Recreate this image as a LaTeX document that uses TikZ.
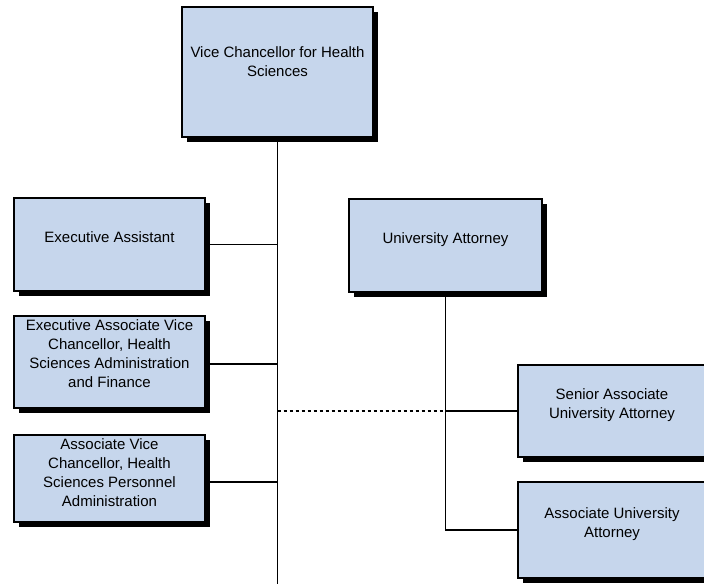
\documentclass[tikz,border=0pt]{standalone}
\usepackage{fontspec}
\setmainfont{Liberation Sans}
\usetikzlibrary{shadows}
\definecolor{boxblue}{RGB}{198,214,236}
\tikzset{
	orgbox/.style={draw=black, line width=1.6pt, fill=boxblue, align=center,
		inner sep=2pt, font=\fontsize{15}{19}\selectfont,
		drop shadow={shadow xshift=5pt, shadow yshift=-5pt, fill=black, opacity=1}},
	link/.style={line width=1.6pt}
}

\begin{document}
\begin{tikzpicture}[x=1pt, y=1pt]
	\useasboundingbox [fill=white] (0, 0) rectangle (704, 584);
	\begin{scope}
	\clip (0, 0) rectangle (704, 584);
	\node [orgbox, minimum width=191pt, minimum height=130pt] (VC) at (277.5, 512) {Vice Chancellor for Health\\Sciences\\[1pt]};
	\node [orgbox, minimum width=191pt, minimum height=93pt] (EA) at (109.5, 339.5) {Executive Assistant\\[-5pt]};
	\node [orgbox, minimum width=191pt, minimum height=92pt] (EAVC) at (109.5, 222) {Executive Associate Vice\\Chancellor, Health\\Sciences Administration\\and Finance\\[-3pt]};
	\node [orgbox, minimum width=191pt, minimum height=87pt] (AVC) at (109.5, 105.5) {Associate Vice\\Chancellor, Health\\Sciences Personnel\\Administration\\[-7pt]};
	\node [orgbox, minimum width=193pt, minimum height=93pt] (UA) at (445.5, 338.5) {University Attorney\\[-5pt]};
	\node [orgbox, minimum width=188pt, minimum height=92pt] (SUA) at (612, 173) {Senior Associate\\University Attorney\\[-5pt]};
	\node [orgbox, minimum width=188pt, minimum height=96pt] (AUA) at (612, 54) {Associate University\\Attorney\\[-5pt]};
	\coordinate (TE) at (277.5, 0);
	\draw [link] (VC.south) -- (TE);
	\draw [link] (EA.east) -- (EA.east -| VC.south);
	\draw [link] ([yshift=-2pt]EAVC.east) -- ([yshift=-2pt]EAVC.east -| VC.south);
	\draw [link] ([yshift=-3.5pt]AVC.east) -- ([yshift=-3.5pt]AVC.east -| VC.south);
	\draw [link] (UA.south) -- (AUA.west -| UA.south) -- (AUA.west);
	\draw [link] (SUA.west) -- (SUA.west -| UA.south);
	\draw [link, dash pattern=on 3pt off 3pt, line width=1.3pt] (SUA.west -| VC.south) -- (SUA.west -| UA.south);
	\end{scope}
\end{tikzpicture}
\end{document}
